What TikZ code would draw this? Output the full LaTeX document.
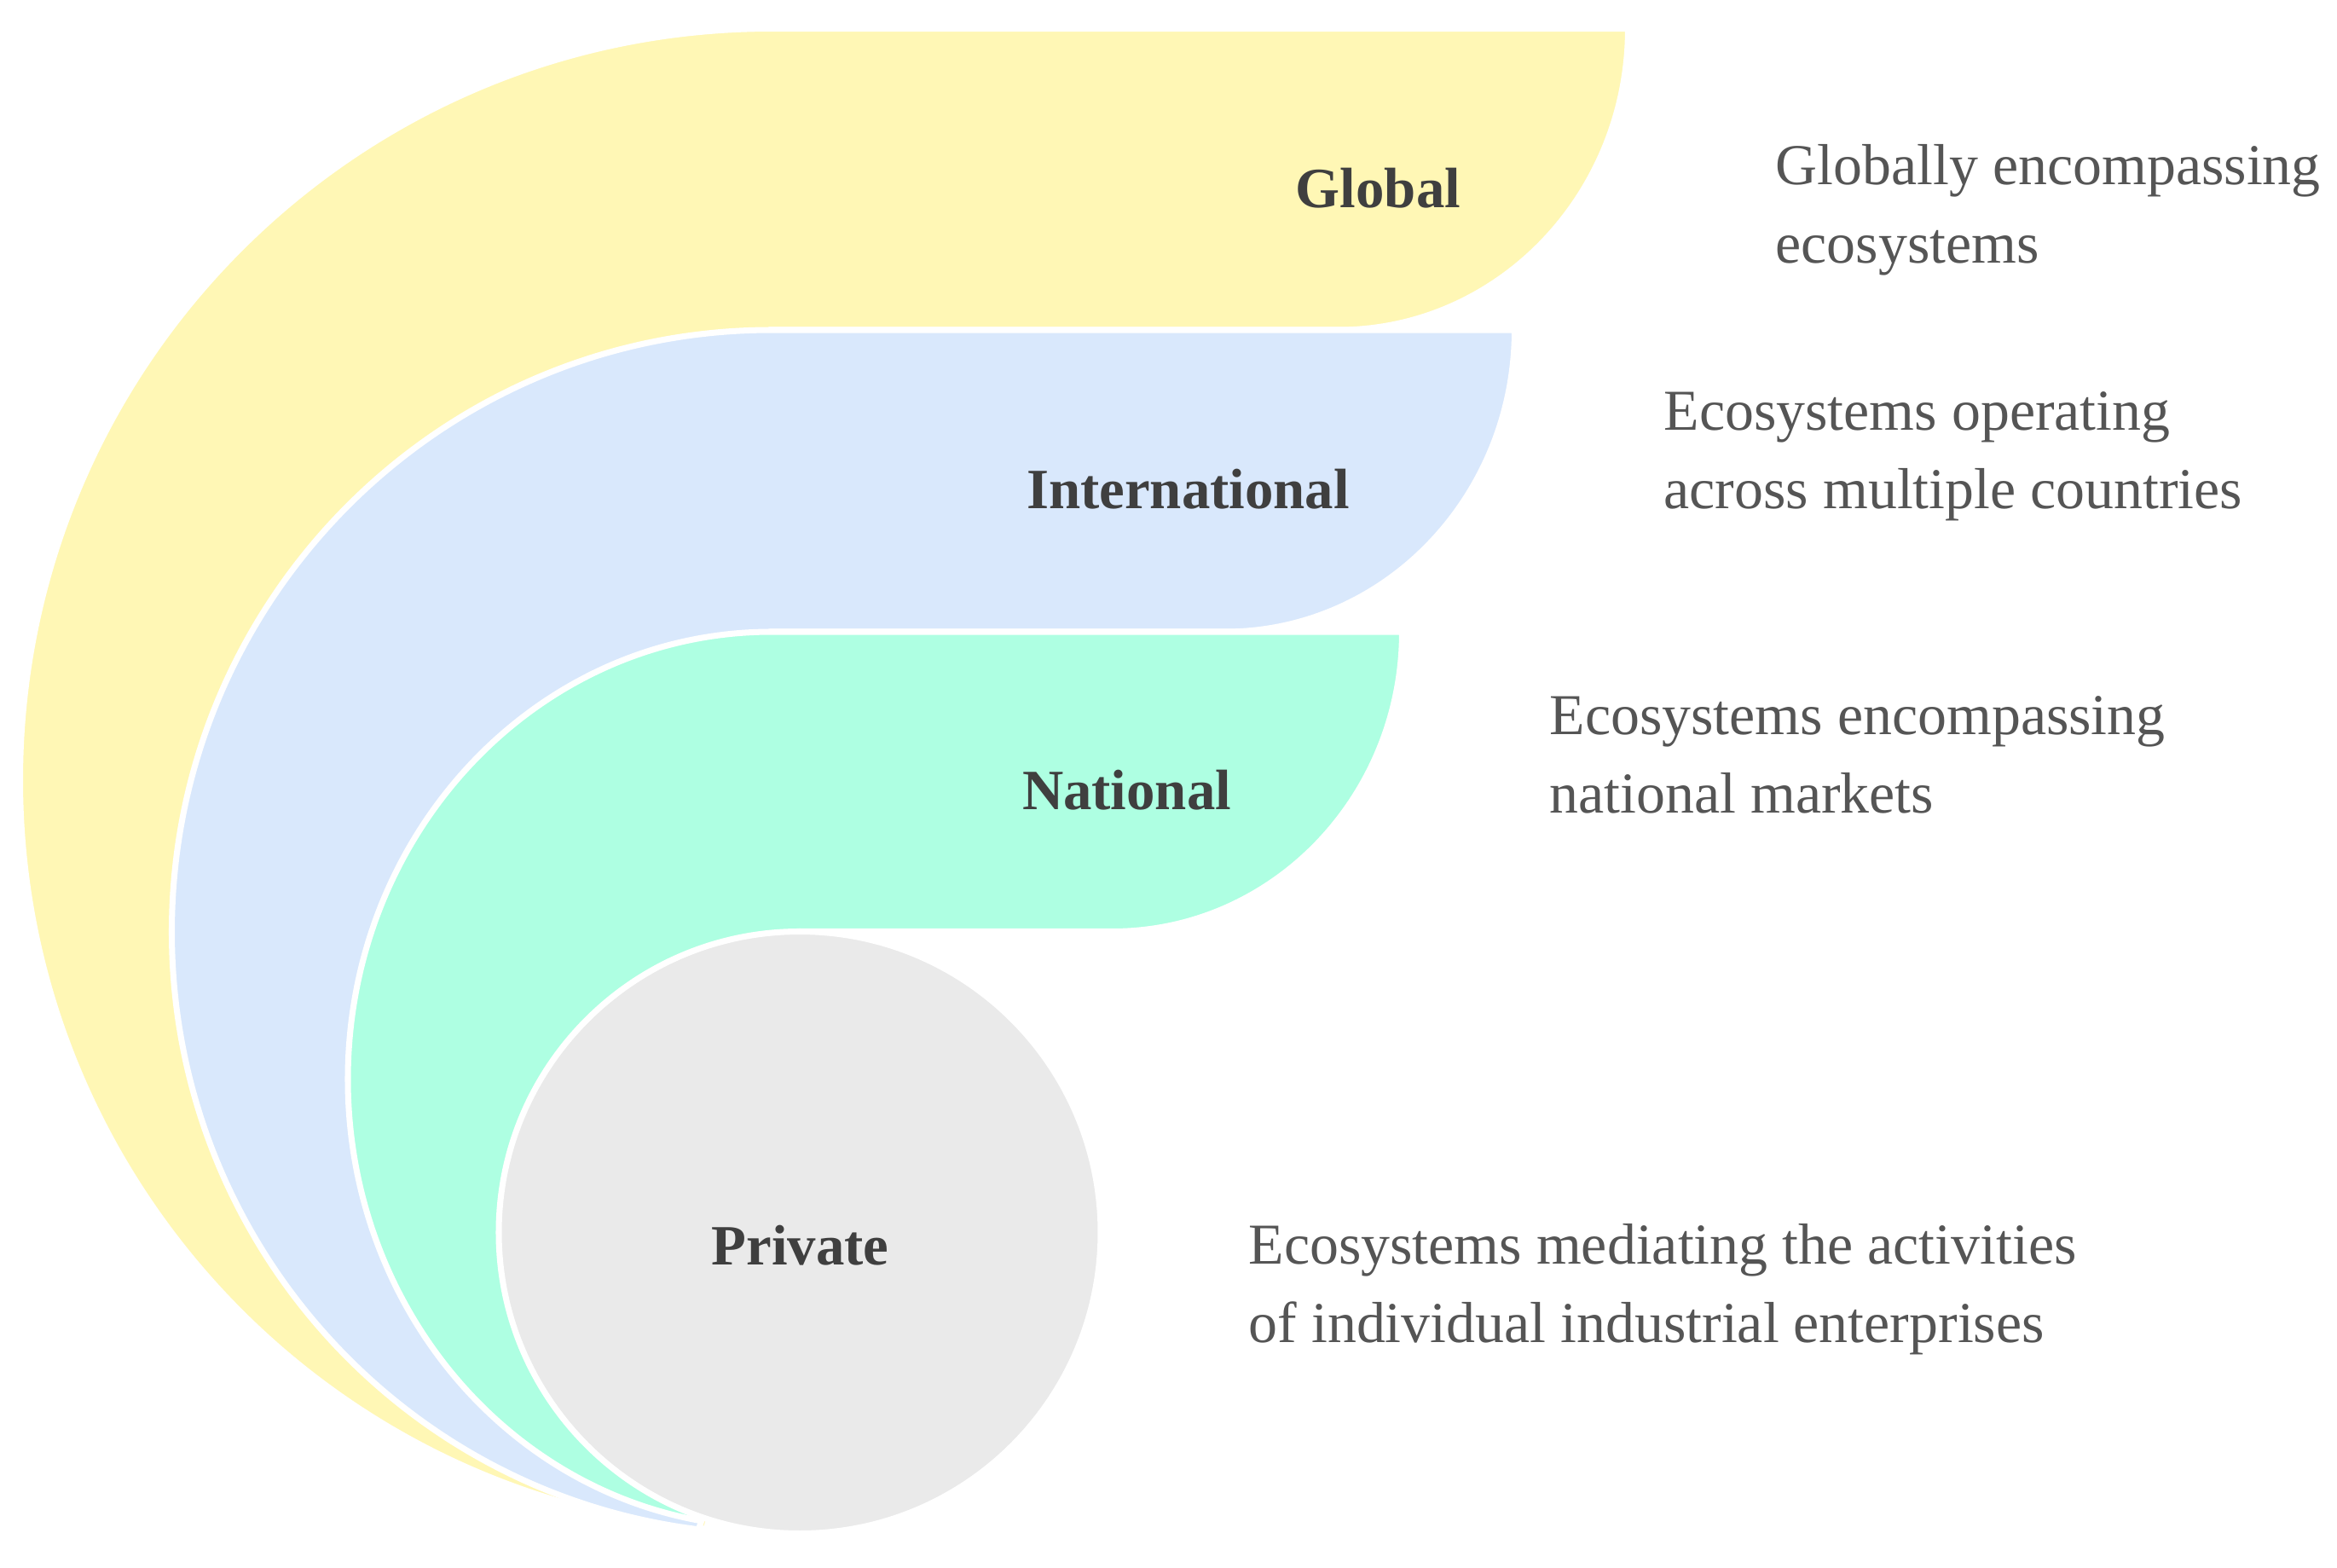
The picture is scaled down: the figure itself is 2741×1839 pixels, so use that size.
\documentclass[tikz,border=0pt]{standalone}
\usepackage{fontspec}
\setmainfont{Liberation Serif}
\definecolor{glob}{HTML}{FFF7B5}
\definecolor{intl}{HTML}{D9E8FC}
\definecolor{natl}{HTML}{AEFFE2}
\definecolor{priv}{HTML}{EAEAEA}
\definecolor{lbltext}{HTML}{3F3F3F}
\definecolor{desctext}{HTML}{555555}
\begin{document}
\begin{tikzpicture}[x=0.01cm, y=-0.01cm,
                band/.style = {draw=white, line width=2pt},
                main/.style = {font=\bfseries\fontsize{19}{22}\selectfont, text=lbltext, anchor=base, inner sep=0pt},
                desc/.style = {font=\fontsize{19.3}{25.9}\selectfont, text=desctext, anchor=base west, align=left, inner sep=0pt}]
                \useasboundingbox (0,0) rectangle (2741,1839);
                \coordinate (c) at (938,1445.5);
                \filldraw[band, fill=glob] (905,33.5) arc[start angle=270, end angle=95, radius=881.5] -- (c) -- (905,387)
                    -- (1569.5,387) arc[start angle=90, end angle=0, x radius=340, y radius=353.5] -- cycle;
                \filldraw[band, fill=intl] (905,387) arc[start angle=270, end angle=97, x radius=703.5, y radius=706] -- (c) -- (905,741)
                    -- (1436.5,741) arc[start angle=90, end angle=0, x radius=340, y radius=354] -- cycle;
                \filldraw[band, fill=natl] (905,741) arc[start angle=270, end angle=100, x radius=497, y radius=525] -- (c) -- (938,1092.5)
                    -- (1304.5,1092.5) arc[start angle=90, end angle=0, x radius=340, y radius=351.5] -- cycle;
                \filldraw[band, fill=priv] (c) circle[radius=353];
                \node[main] (1) at (1616.5,243) {Global};
                \node[main] (2) at (1393.5,596) {International};
                \node[main] (3) at (1321.5,949) {National};
                \node[main] (4) at (938.5,1483) {Private};
                \node[desc] (d1) at (2082,308) {Globally encompassing\\ecosystems};
                \node[desc] (d2) at (1951,596) {Ecosystems operating\\across multiple countries};
                \node[desc] (d3) at (1817,953) {Ecosystems encompassing\\national markets};
                \node[desc] (d4) at (1464,1574) {Ecosystems mediating the activities\\of individual industrial enterprises};
            \end{tikzpicture}
\end{document}
